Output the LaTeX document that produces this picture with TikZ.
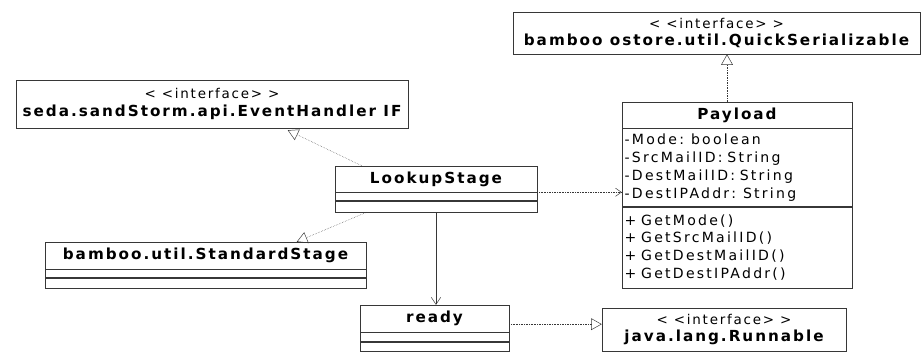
\documentclass[tikz,border=0pt]{standalone}
\usepackage{fontspec}
\setmainfont{DejaVu Sans}
\newfontfamily\umlfont{DejaVu Sans}[LetterSpace=13]
\newfontfamily\memberfont{DejaVu Sans}[LetterSpace=16, WordSpace=1.7]
\usetikzlibrary{arrows.meta, positioning, calc}
\definecolor{umlline}{RGB}{55,55,55}
\newcommand{\stereo}{{\umlfont\mdseries\fontsize{11.5}{12}\selectfont< <interface> >}}

\begin{document}
\begin{tikzpicture}[x=0.03cm, y=-0.03cm,
  cls/.style={rectangle, draw=umlline, thin, minimum height=0.78cm, inner sep=0pt, align=center, font=\umlfont\fontsize{13}{14}\selectfont\bfseries},
  iface/.style={cls, font=\umlfont\fontsize{13}{15}\selectfont\bfseries},
  part/.style={rectangle, draw=umlline, thin, inner sep=0pt, minimum height=0.24cm},
  members/.style={rectangle, draw=umlline, thin, inner xsep=0.08cm, inner ysep=0pt, align=left, font=\memberfont\fontsize{12}{15.2}\selectfont},
  realize/.style={densely dotted, umlline, -{Triangle[open, length=9pt, width=10pt]}},
  depend/.style={densely dotted, umlline, -{Straight Barb[length=5pt, width=7pt]}},
  assoc/.style={umlline, -{Straight Barb[length=6pt, width=8pt]}}
]
\useasboundingbox (0,0) rectangle (921,352);
% Interfaces
\node[iface, minimum width=11.76cm, minimum height=1.44cm] (ifEvent) at (212,104) {\stereo\\seda.sandStorm.api.EventHandler IF};
\node[iface, minimum width=12.21cm, minimum height=1.26cm] (ifQuick) at (716.5,33) {\stereo\\bamboo ostore.util.QuickSerializable};
\node[iface, minimum width=7.32cm, minimum height=1.29cm] (ifRun) at (724,329.5) {\stereo\\java.lang.Runnable};
% Payload
\node[cls, minimum width=6.9cm] (payload) at (737,115) {Payload};
\node[members, below=0pt of payload, text width=6.74cm, minimum height=2.34cm] (payloadA) {-Mode: boolean\\-SrcMailID: String\\-DestMailID: String\\-DestIPAddr: String};
\node[members, below=0pt of payloadA, text width=6.74cm, minimum height=2.43cm] (payloadM) {+ GetMode()\\+ GetSrcMailID()\\+ GetDestMailID()\\+ GetDestIPAddr()};
% LookupStage
\node[cls, minimum width=6.06cm] (lookup) at (436,179) {LookupStage};
\node[part, below=0pt of lookup, minimum width=6.06cm] (lookupA) {};
\node[part, below=0pt of lookupA, minimum width=6.06cm, minimum height=0.33cm] (lookupM) {};
% StandardStage
\node[cls, minimum width=9.63cm, minimum height=0.81cm] (std) at (205.5,255.5) {bamboo.util.StandardStage};
\node[part, below=0pt of std, minimum width=9.63cm] (stdA) {};
\node[part, below=0pt of stdA, minimum width=9.63cm, minimum height=0.3cm] (stdM) {};
% ready
\node[cls, minimum width=4.47cm, minimum height=0.81cm] (ready) at (434.5,318.5) {ready};
\node[part, below=0pt of ready, minimum width=4.47cm, minimum height=0.27cm] (readyA) {};
\node[part, below=0pt of readyA, minimum width=4.47cm, minimum height=0.27cm] (readyM) {};
% Relations
\draw[realize] ($(lookup.north west)+(27,0)$) -- ($(ifEvent.south west)+(272,2)$);
\draw[realize] ($(lookupM.south west)+(32,0)$) -- ($(std.north west)+(252,0)$);
\draw[realize] ([xshift=-0.3cm]payload.north) -- ([xshift=-0.3cm]payload.north |- ifQuick.south);
\draw[realize] ([yshift=-0.17cm]ready.east) -- ([yshift=-0.17cm]ready.east -| ifRun.west);
\draw[depend] (lookup.south east) -- (lookup.south east -| payloadA.west);
\draw[assoc] (lookupM.south) -- (lookupM.south |- ready.north);
\end{tikzpicture}
\end{document}
